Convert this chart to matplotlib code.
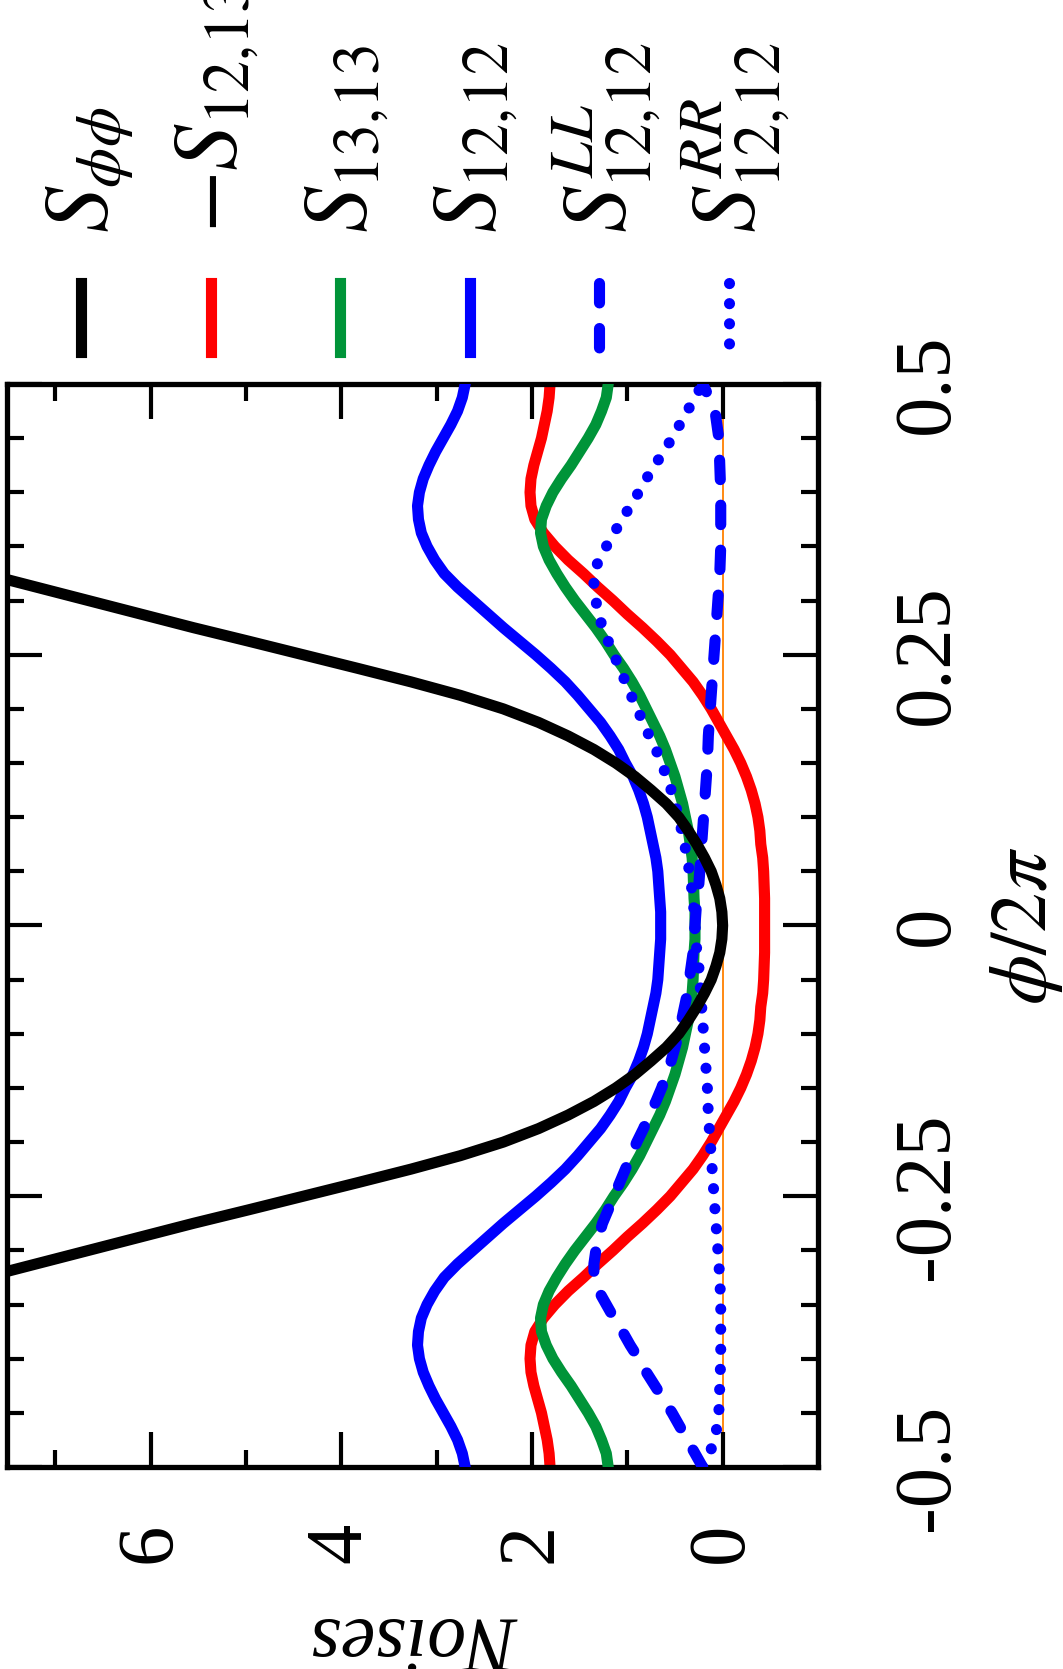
import numpy as np
import matplotlib
matplotlib.use("Agg")
import matplotlib.pyplot as plt
from matplotlib.lines import Line2D

plt.rcParams['font.family'] = 'Liberation Serif'
plt.rcParams['mathtext.fontset'] = 'stix'
plt.rcParams['axes.unicode_minus'] = False

# phase grid (phi / 2pi) and noises
phi = [-0.5, -0.4875, -0.475, -0.4625, -0.45, -0.4375, -0.425, -0.4125, -0.4, -0.3875,
       -0.375, -0.3625, -0.35, -0.3375, -0.325, -0.3125, -0.3, -0.2875, -0.275, -0.2625,
       -0.25, -0.2375, -0.225, -0.2125, -0.2, -0.1875, -0.175, -0.1625, -0.15, -0.1375,
       -0.125, -0.1125, -0.1, -0.0875, -0.075, -0.0625, -0.05, -0.0375, -0.025, -0.0125,
       0.0,
       0.0125, 0.025, 0.0375, 0.05, 0.0625, 0.075, 0.0875, 0.1, 0.1125, 0.125,
       0.1375, 0.15, 0.1625, 0.175, 0.1875, 0.2, 0.2125, 0.225, 0.2375, 0.25,
       0.2625, 0.275, 0.2875, 0.3, 0.3125, 0.325, 0.3375, 0.35, 0.3625, 0.375,
       0.3875, 0.4, 0.4125, 0.425, 0.4375, 0.45, 0.4625, 0.475, 0.4875, 0.5]

s_1212 = [2.70, 2.73, 2.78, 2.85, 2.93, 3.01, 3.08, 3.14, 3.18, 3.20,
          3.19, 3.16, 3.10, 3.02, 2.92, 2.78, 2.62, 2.46, 2.30, 2.13,
          1.96, 1.80, 1.65, 1.52, 1.40, 1.28, 1.18, 1.09, 1.02, 0.94,
          0.88, 0.83, 0.79, 0.76, 0.73, 0.70, 0.68, 0.67, 0.66, 0.65,
          0.65,
          0.65, 0.66, 0.67, 0.68, 0.70, 0.73, 0.76, 0.79, 0.83, 0.88,
          0.94, 1.02, 1.09, 1.18, 1.28, 1.40, 1.52, 1.65, 1.80, 1.96,
          2.13, 2.30, 2.46, 2.62, 2.78, 2.92, 3.02, 3.10, 3.16, 3.19,
          3.20, 3.18, 3.14, 3.08, 3.01, 2.93, 2.85, 2.78, 2.73, 2.70]

m_s1213 = [1.81, 1.82, 1.84, 1.87, 1.90, 1.94, 1.98, 2.01, 2.02, 2.01,
           1.97, 1.88, 1.76, 1.62, 1.46, 1.31, 1.15, 1.00, 0.84, 0.69,
           0.55, 0.43, 0.31, 0.21, 0.12, 0.04, -0.04, -0.12, -0.19, -0.25,
           -0.30, -0.34, -0.37, -0.39, -0.40, -0.42, -0.43, -0.435, -0.44, -0.44,
           -0.44,
           -0.44, -0.44, -0.435, -0.43, -0.42, -0.40, -0.39, -0.37, -0.34, -0.30,
           -0.25, -0.19, -0.12, -0.04, 0.04, 0.12, 0.21, 0.31, 0.43, 0.55,
           0.69, 0.84, 1.00, 1.15, 1.31, 1.46, 1.62, 1.76, 1.88, 1.97,
           2.01, 2.02, 2.01, 1.98, 1.94, 1.90, 1.87, 1.84, 1.82, 1.81]

s_1313 = [1.20, 1.22, 1.27, 1.33, 1.41, 1.50, 1.59, 1.69, 1.78, 1.85,
          1.90, 1.91, 1.88, 1.82, 1.74, 1.65, 1.55, 1.44, 1.33, 1.23,
          1.14, 1.04, 0.95, 0.87, 0.80, 0.73, 0.66, 0.60, 0.55, 0.50,
          0.46, 0.42, 0.39, 0.36, 0.34, 0.32, 0.31, 0.305, 0.30, 0.29,
          0.29,
          0.29, 0.30, 0.305, 0.31, 0.32, 0.34, 0.36, 0.39, 0.42, 0.46,
          0.50, 0.55, 0.60, 0.66, 0.73, 0.80, 0.87, 0.95, 1.04, 1.14,
          1.23, 1.33, 1.44, 1.55, 1.65, 1.74, 1.82, 1.88, 1.91, 1.90,
          1.85, 1.78, 1.69, 1.59, 1.50, 1.41, 1.33, 1.27, 1.22, 1.20]

s_ll = [0.21, 0.29, 0.37, 0.45, 0.53, 0.62, 0.71, 0.80, 0.88, 0.97,
        1.05, 1.14, 1.22, 1.30, 1.35, 1.35, 1.33, 1.30, 1.26, 1.20,
        1.14, 1.08, 1.02, 0.96, 0.90, 0.83, 0.77, 0.70, 0.64, 0.59,
        0.54, 0.50, 0.46, 0.43, 0.40, 0.37, 0.35, 0.33, 0.31, 0.30,
        0.29,
        0.28, 0.27, 0.25, 0.24, 0.23, 0.22, 0.21, 0.20, 0.19, 0.18,
        0.17, 0.16, 0.155, 0.15, 0.14, 0.13, 0.12, 0.11, 0.10, 0.09,
        0.08, 0.07, 0.06, 0.05, 0.04, 0.03, 0.025, 0.02, 0.02, 0.02,
        0.02, 0.02, 0.025, 0.03, 0.035, 0.04, 0.06, 0.08, 0.14, 0.21]

s_rr = [0.21, 0.14, 0.08, 0.06, 0.04, 0.035, 0.03, 0.025, 0.02, 0.02,
        0.02, 0.02, 0.02, 0.025, 0.03, 0.04, 0.05, 0.06, 0.07, 0.08,
        0.09, 0.10, 0.11, 0.12, 0.13, 0.14, 0.15, 0.155, 0.16, 0.17,
        0.18, 0.19, 0.20, 0.21, 0.22, 0.23, 0.24, 0.25, 0.27, 0.28,
        0.29,
        0.30, 0.31, 0.33, 0.35, 0.37, 0.40, 0.43, 0.46, 0.50, 0.54,
        0.59, 0.64, 0.70, 0.77, 0.83, 0.90, 0.96, 1.02, 1.08, 1.14,
        1.20, 1.26, 1.30, 1.33, 1.35, 1.35, 1.30, 1.22, 1.14, 1.05,
        0.97, 0.88, 0.80, 0.71, 0.62, 0.53, 0.45, 0.37, 0.29, 0.21]

phi_pp = [-0.35, -0.3375, -0.325, -0.3125, -0.3, -0.2875, -0.275, -0.2625, -0.25, -0.2375,
          -0.225, -0.2125, -0.2, -0.1875, -0.175, -0.1625, -0.15, -0.1375, -0.125, -0.1125,
          -0.1, -0.0875, -0.075, -0.0625, -0.05, -0.0375, -0.025, -0.0125,
          0.0,
          0.0125, 0.025, 0.0375, 0.05, 0.0625, 0.075, 0.0875, 0.1,
          0.1125, 0.125, 0.1375, 0.15, 0.1625, 0.175, 0.1875, 0.2, 0.2125, 0.225,
          0.2375, 0.25, 0.2625, 0.275, 0.2875, 0.3, 0.3125, 0.325, 0.3375, 0.35]
s_pp = [8.85, 8.30, 7.75, 7.20, 6.65, 6.10, 5.55, 4.97, 4.40, 3.83,
        3.27, 2.75, 2.30, 1.93, 1.62, 1.35, 1.12, 0.92, 0.75, 0.59,
        0.46, 0.36, 0.27, 0.19, 0.12, 0.07, 0.03, 0.008,
        0.0,
        0.008, 0.03, 0.07, 0.12, 0.19, 0.27, 0.36, 0.46,
        0.59, 0.75, 0.92, 1.12, 1.35, 1.62, 1.93, 2.30, 2.75, 3.27,
        3.83, 4.40, 4.97, 5.55, 6.10, 6.65, 7.20, 7.75, 8.30, 8.85]

labels = [r'$S_{\phi\phi}$', r'$-S_{12{,}13}$', r'$S_{13{,}13}$', r'$S_{12{,}12}$',
          r'$S_{12{,}12}^{LL}$', r'$S_{12{,}12}^{RR}$']
noise_ticks = [0, 2, 4, 6]
phi_ticks = [-0.5, -0.25, 0, 0.25, 0.5]
phi_ticklabels = ['-0.5', '-0.25', '0', '0.25', '0.5']

green = '#009439'
lw = 8
styles = [
    dict(color='black', lw=lw),
    dict(color='red', lw=lw),
    dict(color=green, lw=lw),
    dict(color='blue', lw=lw),
    dict(color='blue', lw=lw, dashes=(1.75, 2.3), dash_capstyle='round'),
    dict(color='blue', lw=lw, dashes=(0.01, 1.8), dash_capstyle='round'),
]

W, H = 1063, 1669
fig = plt.figure(figsize=(W / 100, H / 100), dpi=100)
# the chart is drawn turned a quarter turn: noise runs right-to-left, phase bottom-to-top
ax = fig.add_axes([7 / W, (H - 1467) / H, (818 - 7) / W, (1467 - 384) / H])

ax.axvline(0, color='#ff8000', lw=1.3, zorder=1)
ax.plot(m_s1213, phi, zorder=2, **styles[1])
ax.plot(s_1313, phi, zorder=3, **styles[2])
ax.plot(s_1212, phi, zorder=4, **styles[3])
ax.plot(s_ll, phi, zorder=5, **styles[4])
ax.plot(s_rr, phi, zorder=6, **styles[5])
ax.plot(s_pp, phi_pp, zorder=7, **styles[0])

ax.set_xlim(7.505, -1.0)
ax.set_ylim(-0.5, 0.5)
ax.set_xticks(noise_ticks, labels=[str(t) for t in noise_ticks])
ax.set_xticks(np.arange(-1, 8), minor=True)
ax.set_yticks(phi_ticks, labels=phi_ticklabels)
ax.set_yticks(np.arange(-0.5, 0.501, 0.05), minor=True)

for s in ax.spines.values():
    s.set_linewidth(3.8)
ax.tick_params(which='both', direction='in', width=3, top=True, bottom=True,
               left=True, right=True)
ax.tick_params(which='major', length=25)
ax.tick_params(which='minor', length=12.5)
ax.tick_params(axis='x', labelsize=58, labelrotation=90, pad=40)
ax.tick_params(axis='y', labelsize=58, labelrotation=90, pad=53,
               labelleft=False, labelright=True)
for t in ax.yaxis.get_major_ticks():
    t.label2.set_va('center')

ax.set_xlabel('Noises', fontsize=56, style='italic', rotation=180,
              ha='center', va='center')
ax.xaxis.set_label_coords(0.503, -0.1565)
ax.yaxis.set_label_position('right')
ax.set_ylabel(r'$\phi/2\pi$', fontsize=58, rotation=90, ha='center', va='center')
ax.yaxis.set_label_coords(1.2577, 0.5)

# legend, turned like the rest
for i, (lab, st) in enumerate(zip(labels, styles)):
    x = 81 + i * 129.5
    fig.add_artist(Line2D([x / W, x / W], [1 - 283 / H, 1 - 352 / H],
                          transform=fig.transFigure, **st))
    fig.text((x + 27) / W, 1 - 233 / H, lab, fontsize=66, rotation=90,
             rotation_mode='anchor', ha='left', va='baseline')

fig.savefig('out.png', dpi=100)
